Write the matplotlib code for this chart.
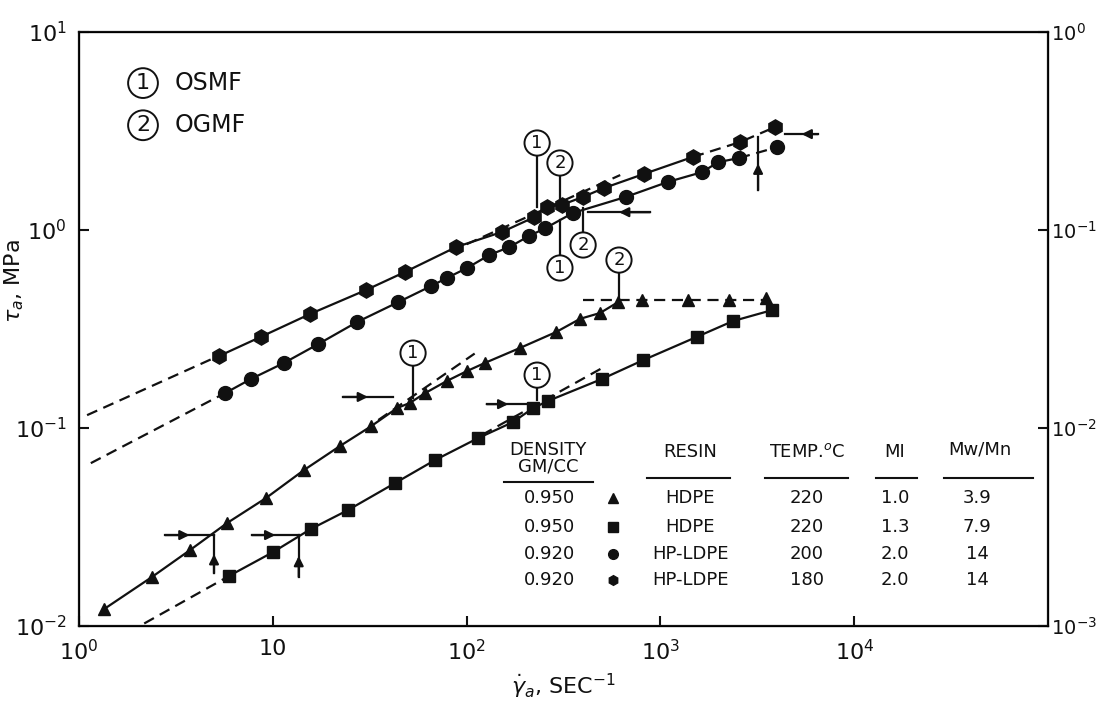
import numpy as np
import matplotlib
matplotlib.use('Agg')
import matplotlib.pyplot as plt

plt.rcParams['mathtext.fontset'] = 'dejavusans'

# ---------------------------------------------------------------------------
# flow curves: apparent shear rate (1/s) vs apparent shear stress (MPa)

# HDPE, 0.950 g/cc, 220 C, MI 1.0  (triangles)
tri_rate = [1.35, 2.38, 3.74, 5.80, 9.22, 14.5, 22.2, 32.1, 43.7, 51.0, 61.0,
            79.2, 100.5, 124, 189, 289, 385, 488, 604, 804, 1387, 2260, 3510]
tri_stress = [0.0122, 0.0177, 0.0242, 0.0331, 0.0443, 0.0614, 0.0811, 0.102,
              0.126, 0.134, 0.150, 0.173, 0.194, 0.213, 0.254, 0.305, 0.356,
              0.381, 0.432, 0.443, 0.443, 0.443, 0.454]

# HDPE, 0.950 g/cc, 220 C, MI 1.3  (squares)
sq_rate = [5.94, 10.0, 15.7, 24.4, 42.7, 68.7, 114.5, 173, 220, 263, 500, 813,
           1545, 2370, 3770]
sq_stress = [0.0179, 0.0236, 0.0309, 0.0385, 0.0527, 0.0689, 0.0889, 0.107,
             0.126, 0.137, 0.177, 0.220, 0.289, 0.347, 0.394]

# HP-LDPE, 0.920 g/cc, 180 C  (hexagons)
hex_rate = [5.28, 8.69, 15.6, 30.3, 48.1, 88.2, 152, 223, 260, 310, 399, 512,
            823, 1473, 2575, 3900]
hex_stress = [0.231, 0.289, 0.377, 0.498, 0.614, 0.820, 0.977, 1.16, 1.31,
              1.34, 1.47, 1.63, 1.92, 2.34, 2.78, 3.31]

# HP-LDPE, 0.920 g/cc, 200 C  (circles)
circ_rate = [5.67, 7.72, 11.4, 17.1, 27.2, 44.3, 65.5, 79.2, 100.5, 131, 166,
             210, 254, 354, 664, 1094, 1641, 1982, 2545, 4000]
circ_stress = [0.150, 0.177, 0.213, 0.265, 0.343, 0.432, 0.521, 0.573, 0.643,
               0.748, 0.820, 0.933, 1.02, 1.22, 1.47, 1.75, 1.96, 2.20, 2.31,
               2.62]

# table of resins
tab_density = ['0.950', '0.950', '0.920', '0.920']
tab_resin = ['HDPE', 'HDPE', 'HP-LDPE', 'HP-LDPE']
tab_temp = ['220', '220', '200', '180']
tab_mi = ['1.0', '1.3', '2.0', '2.0']
tab_mwmn = ['3.9', '7.9', '14', '14']
tab_marker = ['^', 's', 'o', 'h']

###############################################################################
k = '#111111'
lw = 1.6
dash = (5, 3)

fig = plt.figure(figsize=(11.01, 7.11), dpi=100)
ax = fig.add_axes([0.0718, 0.1195, 0.8801, 0.8355])
ax.set_xscale('log')
ax.set_yscale('log')
ax.set_xlim(1, 1e5)
ax.set_ylim(1e-2, 1e1)

mk = dict(color=k, mec=k, zorder=4)


def powerfit(x, y):
    p = np.polyfit(np.log10(x), np.log10(y), 1)
    return lambda xx: 10 ** np.polyval(p, np.log10(xx))


def dashed(x0, x1, f):
    xx = np.logspace(np.log10(x0), np.log10(x1), 30)
    ax.plot(xx, f(xx), color=k, lw=lw, dashes=dash, zorder=2)


# triangles: solid up to the OGMF point, then a dashed plateau
ax.plot(tri_rate[:19], tri_stress[:19], color=k, lw=lw, zorder=3)
ax.plot([400, tri_rate[-1]], [tri_stress[19]] * 2, color=k, lw=lw,
        dashes=dash, zorder=2)
ax.plot(tri_rate, tri_stress, ls='none', marker='^', ms=9, **mk)
dashed(35, 110, powerfit(tri_rate[:8], tri_stress[:8]))

# squares
ax.plot(sq_rate, sq_stress, lw=lw, marker='s', ms=8, **mk)
dashed(1.5, sq_rate[0], powerfit(sq_rate[:5], sq_stress[:5]))
dashed(120, 520, powerfit(sq_rate[:7], sq_stress[:7]))

# hexagons
ax.plot(hex_rate[:-2], hex_stress[:-2], color=k, lw=lw, zorder=3)
ax.plot(hex_rate[-3:], hex_stress[-3:], color=k, lw=lw, dashes=dash, zorder=3)
ax.plot(hex_rate, hex_stress, ls='none', marker='h', ms=11, **mk)
f_hex = powerfit(hex_rate[:5], hex_stress[:5])
dashed(1.1, hex_rate[0], f_hex)
dashed(100, 620, f_hex)

# circles
ax.plot(circ_rate[:-1], circ_stress[:-1], color=k, lw=lw, zorder=3)
ax.plot(circ_rate[-2:], circ_stress[-2:], color=k, lw=lw, dashes=dash, zorder=3)
ax.plot(circ_rate, circ_stress, ls='none', marker='o', ms=10, **mk)
dashed(1.15, circ_rate[0], powerfit(circ_rate[:4], circ_stress[:4]))


# arrows marking the critical points
def arrow(x0, y0, x1, y1):
    ax.plot([x0, x1], [y0, y1], color=k, lw=1.6, zorder=3)
    xm = 10 ** (0.5 * (np.log10(x0) + np.log10(x1)))
    ym = 10 ** (0.5 * (np.log10(y0) + np.log10(y1)))
    ax.annotate('', xy=(xm, ym), xytext=(x0, y0),
                arrowprops=dict(arrowstyle='-|>', color=k, lw=1.6,
                                mutation_scale=14, shrinkA=0, shrinkB=0),
                zorder=3)


arrow(2.78, 0.0288, 4.97, 0.0288)
arrow(4.97, 0.0185, 4.97, 0.0288)
arrow(7.8, 0.0288, 13.6, 0.0288)
arrow(13.6, 0.0177, 13.6, 0.0288)
arrow(23.0, 0.1435, 41.7, 0.1435)
arrow(127, 0.132, 212, 0.132)
arrow(884, 1.23, 423, 1.23)
arrow(3190, 1.59, 3190, 2.95)
arrow(6500, 3.05, 4400, 3.05)

# circled markers: 1 = OSMF, 2 = OGMF
tags = [('1', 52.9, 0.239, 0.142), ('2', 611, 0.705, 0.443),
        ('1', 231, 0.185, 0.138), ('1', 231, 2.75, 1.31),
        ('2', 303, 2.18, 1.26), ('1', 303, 0.643, 1.12),
        ('2', 399, 0.84, 1.29)]
for num, x, y, yend in tags:
    ax.plot([x, x], [y, yend], color=k, lw=1.6, zorder=5)
    ax.text(x, y, num, ha='center', va='center', fontsize=13, color=k,
            zorder=6, bbox=dict(boxstyle='circle,pad=0.2', fc='white',
                                ec=k, lw=1.4))

for num, name, yy in [('1', 'OSMF', 0.914), ('2', 'OGMF', 0.843)]:
    ax.text(0.066, yy, num, transform=ax.transAxes, ha='center', va='center',
            fontsize=16, color=k,
            bbox=dict(boxstyle='circle,pad=0.22', fc='white', ec=k, lw=1.4))
    ax.text(0.099, yy, name, transform=ax.transAxes, ha='left', va='center',
            fontsize=17, color=k)

# resin table
tf = dict(transform=ax.transAxes, ha='center', va='center', fontsize=13,
          color=k)
cols = [0.485, 0.631, 0.751, 0.842, 0.927]
ax.text(0.484, 0.297, 'DENSITY', **tf)
ax.text(0.484, 0.268, 'GM/CC', **tf)
ax.text(0.631, 0.293, 'RESIN', **tf)
ax.text(0.751, 0.293, 'TEMP.$^o$C', **tf)
ax.text(0.842, 0.293, 'MI', **tf)
ax.text(0.930, 0.297, 'Mw/Mn', **tf)
for x0, x1, yy in [(0.439, 0.530, 0.242), (0.586, 0.672, 0.250),
                   (0.708, 0.794, 0.250), (0.822, 0.865, 0.250),
                   (0.893, 0.984, 0.250)]:
    ax.plot([x0, x1], [yy, yy], transform=ax.transAxes, color=k, lw=1.5)
rows_y = [0.215, 0.167, 0.121, 0.077]
for i, yy in enumerate(rows_y):
    ax.text(cols[0], yy, tab_density[i], **tf)
    ax.plot([0.551], [yy], transform=ax.transAxes, ls='none',
            marker=tab_marker[i], ms=7, color=k)
    ax.text(cols[1], yy, tab_resin[i], **tf)
    ax.text(cols[2], yy, tab_temp[i], **tf)
    ax.text(cols[3], yy, tab_mi[i], **tf)
    ax.text(cols[4], yy, tab_mwmn[i], **tf)

# axes, ticks and labels
ax.minorticks_off()
ax.set_xticks([1, 10, 1e2, 1e3, 1e4])
ax.set_xticklabels(['$10^0$', '10', '$10^2$', '$10^3$', '$10^4$'])
ax.set_yticks([1e-2, 1e-1, 1, 10])
ax.set_yticklabels(['$10^{-2}$', '$10^{-1}$', '$10^0$', '$10^1$'])
ax.tick_params(direction='in', length=7, width=1.5, labelsize=16, pad=9,
               colors=k)
for s in ax.spines.values():
    s.set_linewidth(1.6)
    s.set_color(k)

ax2 = ax.twinx()
ax2.set_yscale('log')
ax2.set_ylim(1e-3, 1e0)
ax2.minorticks_off()
ax2.set_yticks([1e-3, 1e-2, 1e-1, 1])
ax2.set_yticklabels(['$10^{-3}$', '$10^{-2}$', '$10^{-1}$', '$10^0$'])
ax2.tick_params(direction='in', length=7, width=1.5, labelsize=14, pad=2,
                colors=k)

ax.set_xlabel(r'$\dot{\gamma}_a$, SEC$^{-1}$', fontsize=16, color=k,
              labelpad=6)
ax.set_ylabel(r'$\tau_a$, MPa', fontsize=16, color=k)
ax.yaxis.set_label_coords(-0.055, 0.58)

fig.savefig('out.png', dpi=100)
